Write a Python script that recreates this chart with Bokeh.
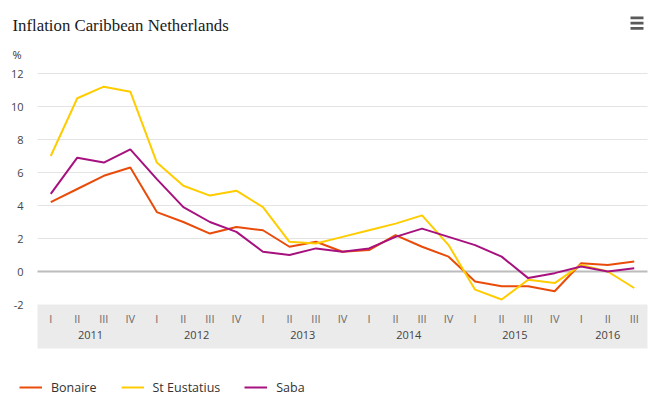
from bokeh.plotting import figure
from bokeh.models import (Range1d, FixedTicker, BoxAnnotation, Label,
                          Legend, LegendItem, LinearAxis, Grid, ColumnDataSource)
from bokeh.embed import file_html
from bokeh.resources import INLINE

years = ["2011", "2012", "2013", "2014", "2015", "2016"]
quarters = ["I", "II", "III", "IV"]
quarters_per_year = [4, 4, 4, 4, 4, 3]
periods = [(y, q) for y, n in zip(years, quarters_per_year) for q in quarters[:n]]

bonaire = [4.2, 5.0, 5.8, 6.3, 3.6, 3.0, 2.3, 2.7, 2.5, 1.5, 1.8, 1.2,
           1.3, 2.2, 1.5, 0.9, -0.6, -0.9, -0.9, -1.2, 0.5, 0.4, 0.6]
st_eustatius = [7.0, 10.5, 11.2, 10.9, 6.6, 5.2, 4.6, 4.9, 3.9, 1.8, 1.7, 2.1,
                2.5, 2.9, 3.4, 1.6, -1.1, -1.7, -0.5, -0.7, 0.4, 0.0, -1.0]
saba = [4.7, 6.9, 6.6, 7.4, 5.6, 3.9, 3.0, 2.4, 1.2, 1.0, 1.4, 1.2,
        1.4, 2.1, 2.6, 2.1, 1.6, 0.9, -0.4, -0.1, 0.3, 0.0, 0.2]
y_ticks = [-2, 0, 2, 4, 6, 8, 10, 12]

FONT = "Open Sans"
BAND = "#ebebeb"
W, H = 660, 408

n = len(periods)
pos = [i + 0.5 for i in range(n)]          # one slot per quarter, point in the middle

# layout: plot area from x=37 to 647 px, value 12 at y=73 px and -2 at y=304 px
PPX = 610 / n
PPY = 231 / (y_ticks[-1] - y_ticks[0])
x_range = Range1d(-37 / PPX, n + 13 / PPX)
y_range = Range1d(y_ticks[0] - 104 / PPY, y_ticks[-1] + 73 / PPY)
band_bottom = y_ticks[0] - 44 / PPY

src = ColumnDataSource(data=dict(pos=pos, bonaire=bonaire,
                                 st_eustatius=st_eustatius, saba=saba))
grid_y = [t for t in y_ticks if t > y_ticks[0] and t != 0]
grid_src = ColumnDataSource(data=dict(x0=[0] * len(grid_y), x1=[n] * len(grid_y), y=grid_y))
zero_src = ColumnDataSource(data=dict(x0=[0], x1=[n], y=[0]))

p = figure(width=W, height=H, x_range=x_range, y_range=y_range,
           output_backend="svg", toolbar_location=None,
           x_axis_location=None, y_axis_location=None,
           min_border_left=0, min_border_right=0, min_border_top=0, min_border_bottom=0)
p.title.visible = False
p.outline_line_color = None
p.background_fill_color = "white"
p.border_fill_color = "white"
p.center = [r for r in p.center if not isinstance(r, Grid)]

# grey band behind the period labels
p.add_layout(BoxAnnotation(left=0, right=n, top=y_ticks[0], bottom=band_bottom,
                           fill_color=BAND, fill_alpha=1, line_color=None, level="underlay"))

# horizontal grid lines and the darker zero line
p.segment(x0="x0", x1="x1", y0="y", y1="y", source=grid_src, line_color="#e4e4e4", line_width=1)
p.segment(x0="x0", x1="x1", y0="y", y1="y", source=zero_src, line_color="#bcbcbc", line_width=2)

noline = dict(axis_line_color=None, major_tick_line_color=None, minor_tick_line_color=None,
              major_tick_out=0, major_tick_in=0, minor_tick_out=0, minor_tick_in=0)

yaxis = LinearAxis(fixed_location=0, ticker=FixedTicker(ticks=y_ticks), major_label_standoff=14,
                   major_label_text_font=FONT, major_label_text_font_size="11px",
                   major_label_text_color="#444444",
                   major_label_overrides={-2: "-2"}, **noline)
p.add_layout(yaxis, "left")

# quarter labels
q_axis = LinearAxis(fixed_location=y_ticks[0], ticker=FixedTicker(ticks=pos),
                    major_label_overrides={t: f[1] for t, f in zip(pos, periods)},
                    major_label_standoff=6,
                    major_label_text_font=FONT, major_label_text_font_size="11px",
                    major_label_text_color="#6a6a6a", **noline)
p.add_layout(q_axis, "below")

# year labels, centred under their quarters
y_centres, start = [], 0
for k in quarters_per_year:
    y_centres.append(start + k / 2)
    start += k
yr_axis = LinearAxis(fixed_location=y_ticks[0], ticker=FixedTicker(ticks=y_centres),
                     major_label_overrides={t: yv for t, yv in zip(y_centres, years)},
                     major_label_standoff=26,
                     major_label_text_font=FONT, major_label_text_font_size="11px",
                     major_label_text_color="#444444", **noline)
p.add_layout(yr_axis, "below")

r1 = p.line("pos", "bonaire", source=src, line_color="#e94c0a", line_width=2)
r2 = p.line("pos", "st_eustatius", source=src, line_color="#ffcc00", line_width=2)
r3 = p.line("pos", "saba", source=src, line_color="#a7117f", line_width=2)

legend = Legend(items=[LegendItem(label="Bonaire", renderers=[r1]),
                       LegendItem(label="St Eustatius", renderers=[r2]),
                       LegendItem(label="Saba", renderers=[r3])],
                orientation="horizontal", location=(19, 11),
                border_line_color=None, background_fill_alpha=0,
                padding=0, margin=0, spacing=24, glyph_width=23, glyph_height=20,
                label_standoff=9, label_text_font=FONT, label_text_font_size="12.5px",
                label_text_color="#333333")
p.add_layout(legend, "center")

p.add_layout(Label(x=12, y=H - 25, x_units="screen", y_units="screen",
                   text="Inflation Caribbean Netherlands", text_font="Liberation Serif",
                   text_font_size="16.8px", text_color="#1a1a1a", text_baseline="alphabetic"))
p.add_layout(Label(x=12, y=H - 54, x_units="screen", y_units="screen", text="%",
                   text_font=FONT, text_font_size="11px", text_color="#333333",
                   text_baseline="middle"))

# context-menu icon (three bars)
for top in [16, 21.3, 26.6]:
    p.add_layout(BoxAnnotation(left=630, right=643, top=H - top, bottom=H - top - 2.7,
                               left_units="screen", right_units="screen",
                               top_units="screen", bottom_units="screen",
                               fill_color="#5a5a5a", fill_alpha=1, line_color=None))

open("out.html", "w").write(file_html(p, INLINE))
